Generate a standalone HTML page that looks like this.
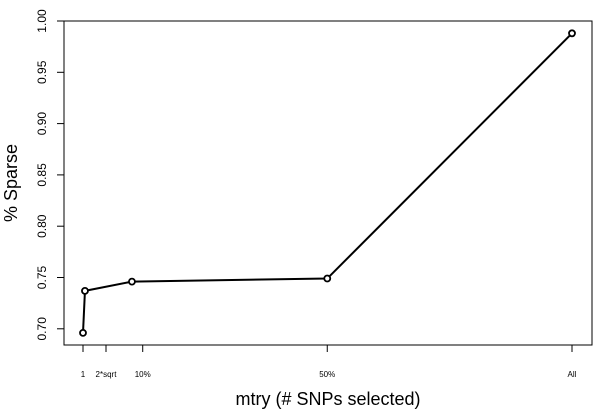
<!DOCTYPE html>
<html><head><meta charset="utf-8"><style>
html,body{margin:0;padding:0;background:#fff}
svg{display:block;font-family:"Liberation Sans",Arial,sans-serif}
</style></head><body>
<svg id="chart" width="600" height="416"></svg>
<script>
const xValues=[1,5,101,500,1000];
const yValues=[0.696,0.737,0.746,0.749,0.988];
const xTickVals=[1,48,123,500,1000];
const xTickLabels=["1","2*sqrt","10%","50%","All"];
const yTicks=[0.70,0.75,0.80,0.85,0.90,0.95,1.00];
const yTickLabels=["0.70","0.75","0.80","0.85","0.90","0.95","1.00"];

const L=64,R=592,T=21,B=345;
const sx=v=>83+(v-1)/999*489;
const sy=v=>21+(1-v)*1026;
const svg=document.getElementById('chart');
const NS='http://www.w3.org/2000/svg';
function mk(tag,attrs,parent){const e=document.createElementNS(NS,tag);for(const k in attrs)e.setAttribute(k,attrs[k]);(parent||svg).appendChild(e);return e;}

const box=mk('rect',{x:L,y:T,width:R-L,height:B-T,fill:'none',stroke:'#000','stroke-width':1});



yTicks.forEach((v,i)=>{
  const y=sy(v);
  const t=mk('line',{x1:57,x2:L,y1:y,y2:y,stroke:'#000'});
  
  
  const tx=mk('text',{x:46,y:y,'font-size':12,'text-anchor':'middle',transform:`rotate(-90 46 ${y})`,fill:'#000'});
  tx.textContent=yTickLabels[i];
  
  
});
xTickVals.forEach((v,i)=>{
  const x=sx(v);
  const t=mk('line',{x1:x,x2:x,y1:B,y2:352,stroke:'#000'});
  
  
  const tx=mk('text',{x:x,y:377,'font-size':8,'text-anchor':'middle',fill:'#000'});
  tx.textContent=xTickLabels[i];
  
  
});

const pts=xValues.map((v,i)=>sx(v)+','+sy(yValues[i])).join(' ');
const line=mk('polyline',{points:pts,fill:'none',stroke:'#000','stroke-width':2});


xValues.forEach((v,i)=>{
  const c=mk('circle',{cx:sx(v),cy:sy(yValues[i]),r:3,fill:'#fff',stroke:'#000','stroke-width':1.8});
  
  
});

const xt=mk('text',{x:328,y:405,'font-size':18,'text-anchor':'middle',fill:'#000'});
xt.textContent='mtry (# SNPs selected)';


const yt=mk('text',{x:17,y:183,'font-size':18,'text-anchor':'middle',transform:'rotate(-90 17 183)',fill:'#000'});
yt.textContent='% Sparse';


</script>
</body></html>
